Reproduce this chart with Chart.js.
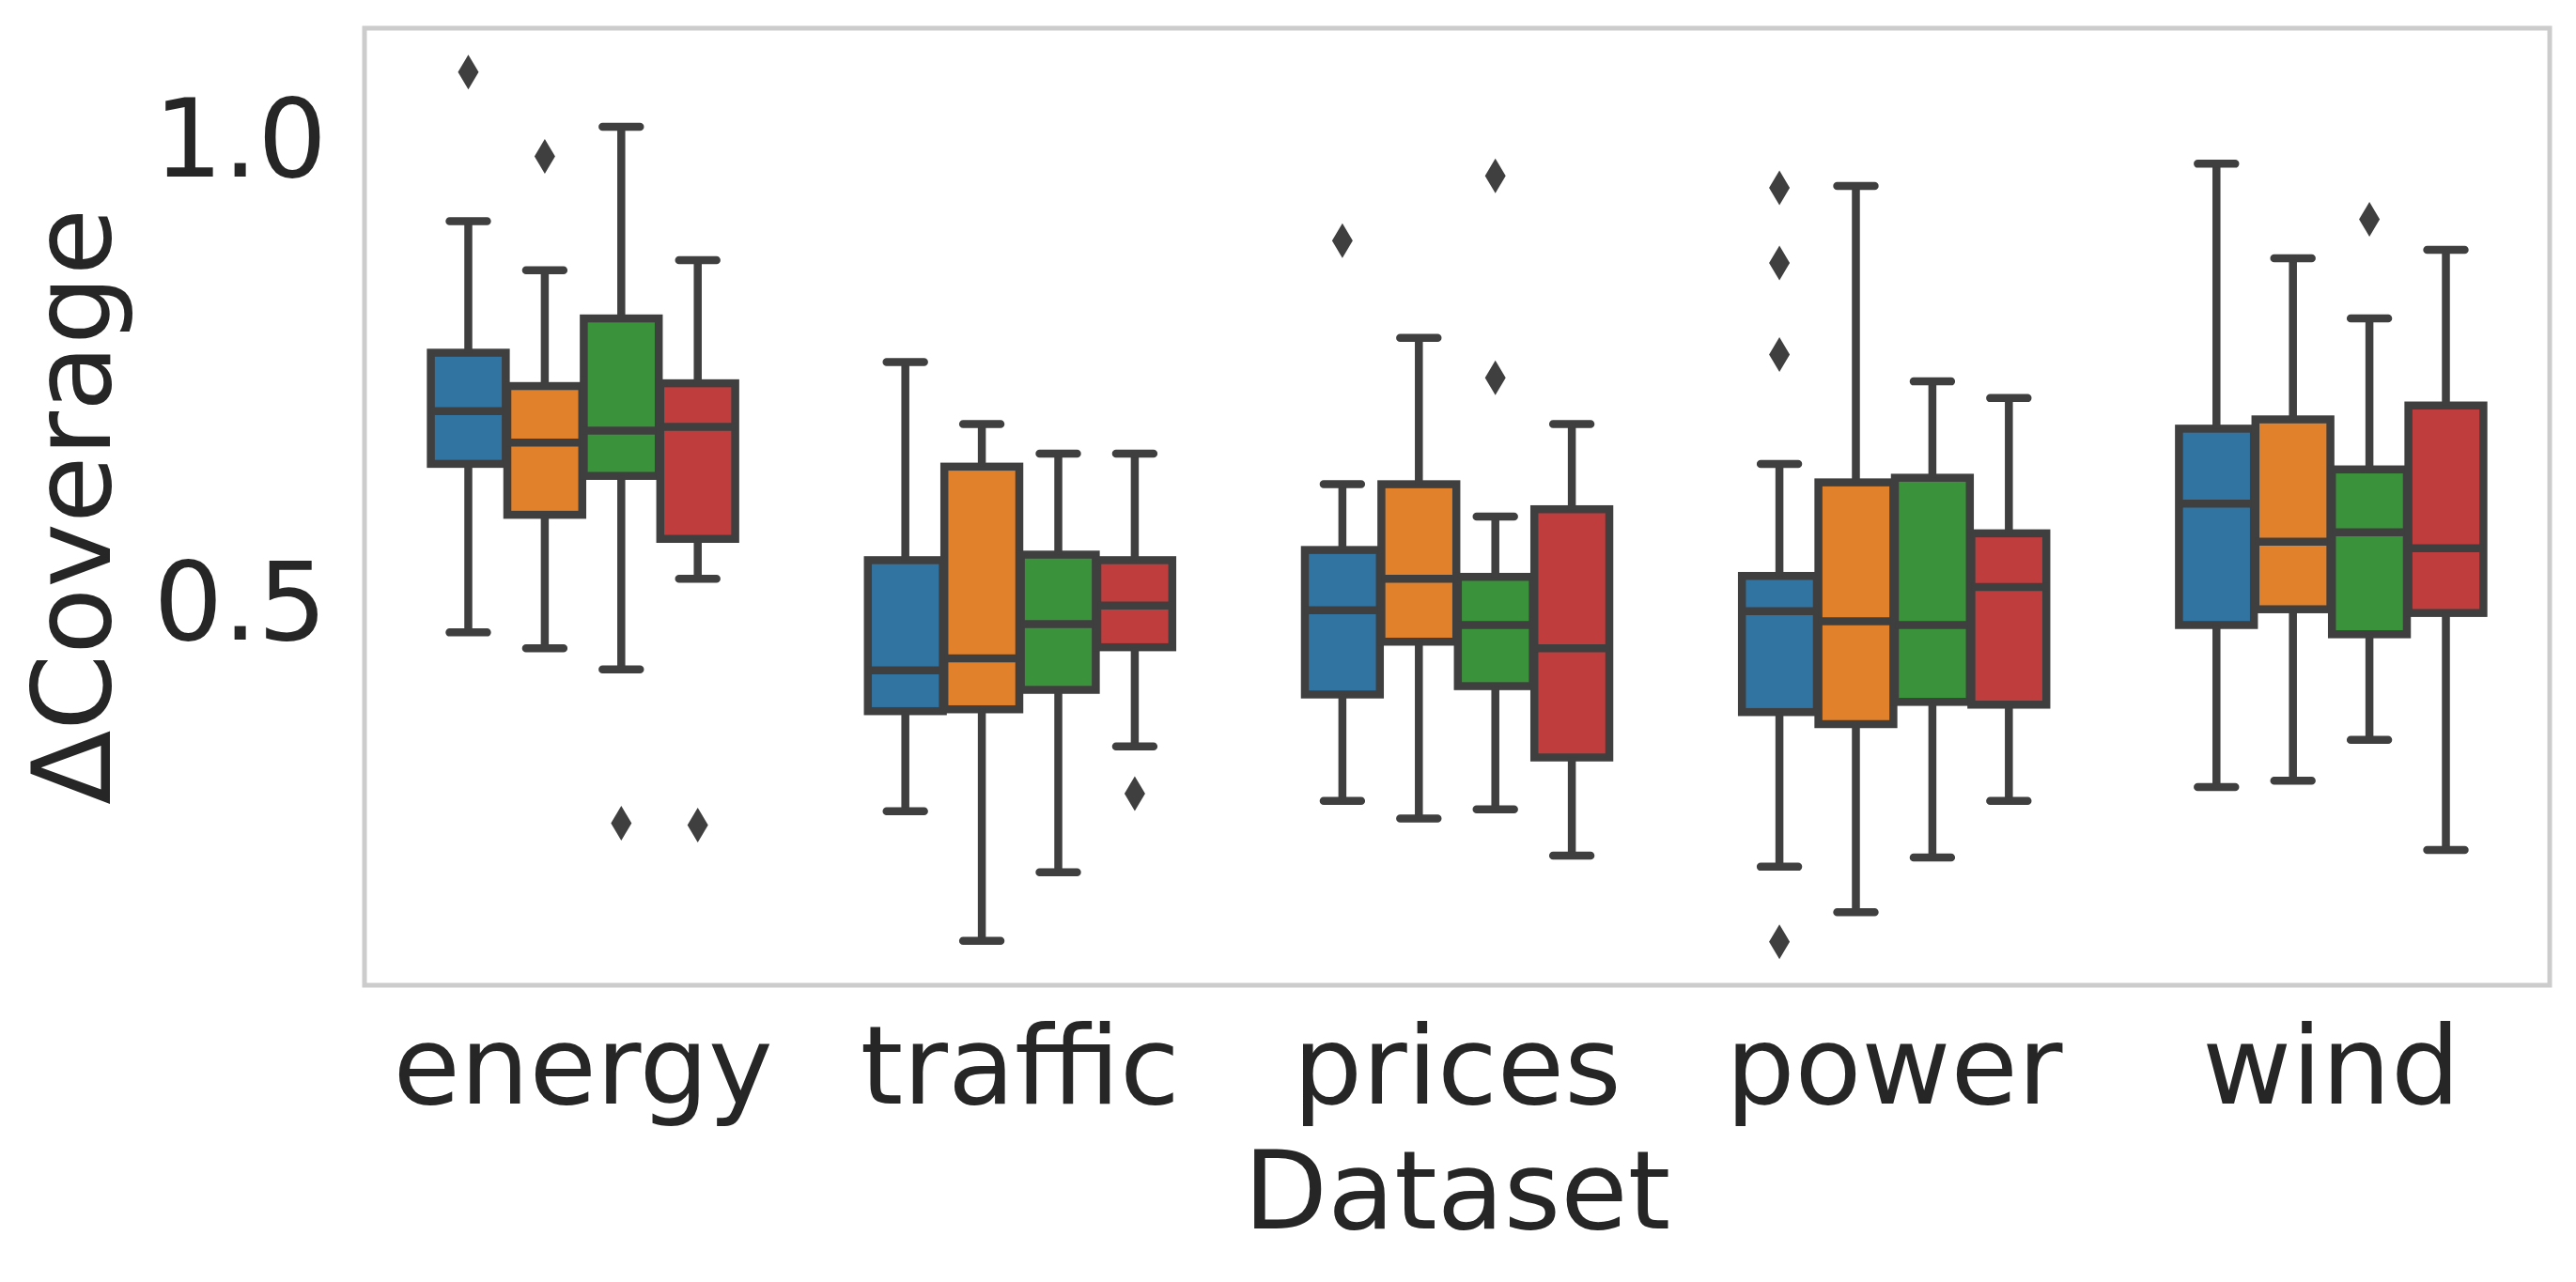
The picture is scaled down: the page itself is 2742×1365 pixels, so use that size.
<!DOCTYPE html>
<html lang="en">
<head>
    <meta charset="UTF-8">
    <title>Delta coverage per dataset</title>
    <style>
        html, body {
            margin: 0;
            padding: 0;
            background: #ffffff;
        }
        canvas {
            display: block;
        }
    </style>
</head>
<body>
    <canvas id="boxChart" width="2742" height="1365"></canvas>
    <script src="https://cdn.jsdelivr.net/npm/chart.js@4.4.1/dist/chart.umd.min.js"></script>
    <script>
        // categories on the x axis
        const categories = ['energy', 'traffic', 'prices', 'power', 'wind'];
        // four hue groups (no legend in the figure)
        const seriesNames = ['group 1', 'group 2', 'group 3', 'group 4'];
        const seriesColors = ['#3274a1', '#e1812c', '#3a923a', '#c03d3e'];

        // box statistics, one row per hue, one column per category
        const whiskerLow = [
            [0.467, 0.274, 0.285, 0.214, 0.300],
            [0.450, 0.134, 0.266, 0.165, 0.307],
            [0.427, 0.208, 0.276, 0.224, 0.351],
            [0.525, 0.344, 0.226, 0.285, 0.232]
        ];
        const q1Values = [
            [0.649, 0.382, 0.400, 0.381, 0.475],
            [0.594, 0.384, 0.457, 0.368, 0.492],
            [0.636, 0.405, 0.409, 0.392, 0.465],
            [0.568, 0.451, 0.332, 0.389, 0.488]
        ];
        const medianValues = [
            [0.706, 0.426, 0.491, 0.490, 0.606],
            [0.672, 0.439, 0.525, 0.479, 0.565],
            [0.685, 0.476, 0.475, 0.475, 0.575],
            [0.689, 0.496, 0.450, 0.516, 0.558]
        ];
        const q3Values = [
            [0.769, 0.545, 0.556, 0.528, 0.687],
            [0.733, 0.646, 0.627, 0.629, 0.697],
            [0.806, 0.551, 0.527, 0.634, 0.643],
            [0.736, 0.545, 0.600, 0.574, 0.712]
        ];
        const whiskerHigh = [
            [0.911, 0.759, 0.627, 0.649, 0.973],
            [0.858, 0.692, 0.785, 0.949, 0.871],
            [1.013, 0.660, 0.592, 0.738, 0.806],
            [0.869, 0.660, 0.692, 0.720, 0.880]
        ];
        const outlierValues = [
            [[1.072], [], [0.890], [0.947, 0.866, 0.767, 0.133], []],
            [[0.981], [], [], [], []],
            [[0.261], [], [0.960, 0.742], [], [0.913]],
            [[0.259], [0.293], [], [], []]
        ];

        // y axis
        const yMin = 0.0861;
        const yMax = 1.1194;
        const yTickValues = [0.5, 1.0];
        const yTickLabels = ['0.5', '1.0'];

        const edgeColor = '#3f3f3f';
        const textColor = '#262626';
        const fontFamily = "'DejaVu Sans', sans-serif";
        const fontSize = 116;

        const datasets = seriesNames.map((name, s) => ({
            label: name,
            data: categories.map((c, i) => [q1Values[s][i], q3Values[s][i]]),
            backgroundColor: seriesColors[s],
            borderWidth: 0,
            categoryPercentage: 0.7,
            barPercentage: 0.98
        }));

        // whiskers, medians, outlines and fliers, placed with the chart's own scales
        const boxPlotExtras = {
            id: 'boxPlotExtras',
            afterDatasetsDraw(chart) {
                const ctx = chart.ctx;
                const y = chart.scales.y;
                ctx.save();
                ctx.strokeStyle = edgeColor;
                ctx.fillStyle = edgeColor;
                ctx.lineWidth = 8.5;
                seriesNames.forEach((name, s) => {
                    const meta = chart.getDatasetMeta(s);
                    meta.data.forEach((bar, i) => {
                        const x = bar.x;
                        const w = bar.width;
                        const yq1 = y.getPixelForValue(q1Values[s][i]);
                        const yq3 = y.getPixelForValue(q3Values[s][i]);
                        const ymed = y.getPixelForValue(medianValues[s][i]);
                        const ylo = y.getPixelForValue(whiskerLow[s][i]);
                        const yhi = y.getPixelForValue(whiskerHigh[s][i]);

                        ctx.lineCap = 'butt';
                        ctx.lineJoin = 'miter';
                        ctx.strokeRect(x - w / 2, yq3, w, yq1 - yq3);

                        ctx.beginPath();
                        ctx.moveTo(x - w / 2, ymed);
                        ctx.lineTo(x + w / 2, ymed);
                        ctx.moveTo(x, yq1);
                        ctx.lineTo(x, ylo);
                        ctx.moveTo(x, yq3);
                        ctx.lineTo(x, yhi);
                        ctx.stroke();

                        ctx.lineCap = 'round';
                        ctx.beginPath();
                        ctx.moveTo(x - w / 4, ylo);
                        ctx.lineTo(x + w / 4, ylo);
                        ctx.moveTo(x - w / 4, yhi);
                        ctx.lineTo(x + w / 4, yhi);
                        ctx.stroke();

                        outlierValues[s][i].forEach(v => {
                            const py = y.getPixelForValue(v);
                            ctx.beginPath();
                            ctx.moveTo(x, py - 18.5);
                            ctx.lineTo(x + 11, py);
                            ctx.lineTo(x, py + 18.5);
                            ctx.lineTo(x - 11, py);
                            ctx.closePath();
                            ctx.fill();
                        });
                    });
                });
                ctx.restore();
            },
            afterDraw(chart) {
                const a = chart.chartArea;
                const ctx = chart.ctx;
                ctx.save();
                ctx.strokeStyle = '#cccccc';
                ctx.lineWidth = 5;
                ctx.strokeRect(a.left, a.top, a.right - a.left, a.bottom - a.top);
                ctx.restore();
            }
        };

        const ctx = document.getElementById('boxChart').getContext('2d');
        const boxChart = new Chart(ctx, {
            type: 'bar',
            data: {
                labels: categories,
                datasets: datasets
            },
            plugins: [boxPlotExtras],
            options: {
                responsive: false,
                animation: false,
                devicePixelRatio: 1,
                layout: {
                    padding: { top: 30, right: 28, left: 0, bottom: 0 }
                },
                plugins: {
                    legend: { display: false },
                    tooltip: { enabled: false }
                },
                scales: {
                    x: {
                        grid: { display: false, drawTicks: false },
                        border: { display: false },
                        ticks: {
                            color: textColor,
                            font: { family: fontFamily, size: fontSize },
                            padding: 26,
                            maxRotation: 0,
                            autoSkip: false
                        },
                        title: {
                            display: true,
                            text: 'Dataset',
                            color: textColor,
                            font: { family: fontFamily, size: fontSize },
                            padding: { top: 0, bottom: 18 }
                        },
                        afterFit(scale) {
                            scale.height = 316;
                            scale.paddingLeft = 0;
                            scale.paddingRight = 0;
                        }
                    },
                    y: {
                        min: yMin,
                        max: yMax,
                        grid: { display: false, drawTicks: false },
                        border: { display: false },
                        afterBuildTicks(scale) {
                            scale.ticks = yTickValues.map(v => ({ value: v }));
                        },
                        ticks: {
                            color: textColor,
                            font: { family: fontFamily, size: fontSize },
                            padding: 40,
                            labelOffset: 10,
                            callback: (value, index) => yTickLabels[index]
                        },
                        title: {
                            display: true,
                            text: 'ΔCoverage',
                            color: textColor,
                            font: { family: fontFamily, size: fontSize },
                            padding: { top: 17, bottom: 0 }
                        },
                        afterFit(scale) {
                            scale.width = 388;
                            scale.paddingTop = 0;
                            scale.paddingBottom = 0;
                        }
                    }
                }
            }
        });
    </script>
</body>
</html>
